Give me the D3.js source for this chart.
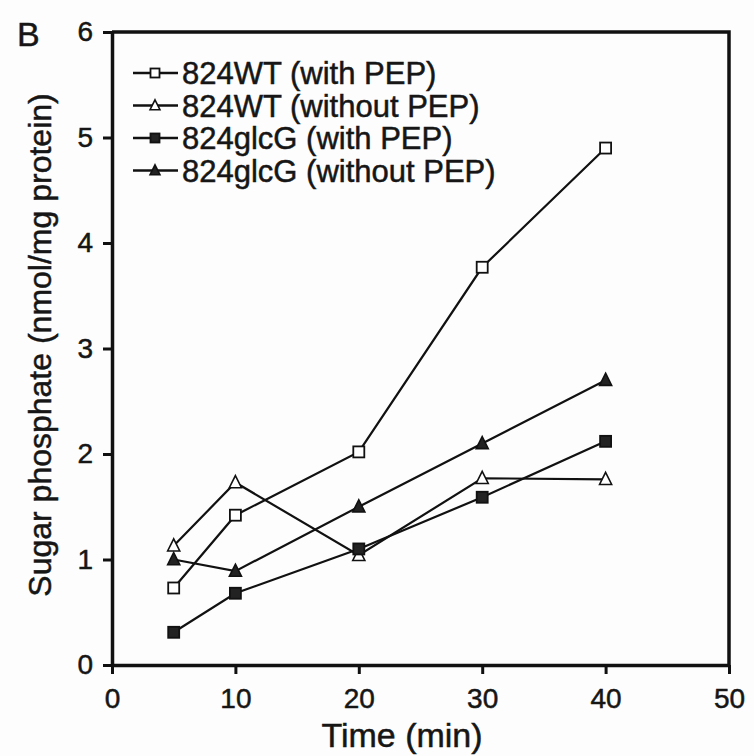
<!DOCTYPE html>
<html>
<head>
<meta charset="utf-8">
<script src="https://d3js.org/d3.v7.min.js"></script>
<style>
body { margin: 0; background: #fdfdfd; }
svg { display: block; }
text { font-family: 'Liberation Sans', Arial, sans-serif; fill: #161616; stroke: #161616; stroke-width: 0.5px; }
</style>
</head>
<body>
<svg></svg>
<script>

var width = 754;
var height = 756;

// Data (time in min, sugar phosphate in nmol/mg protein)
var times = [5, 10, 20, 30, 40];
var wtWithPEP = [0.73, 1.42, 2.02, 3.77, 4.9];
var wtWithoutPEP = [1.13, 1.73, 1.04, 1.77, 1.76];
var glcgWithPEP = [0.31, 0.68, 1.1, 1.59, 2.12];
var glcgWithoutPEP = [1.0, 0.89, 1.5, 2.1, 2.7];

var seriesNames = ["824WT (with PEP)", "824WT (without PEP)", "824glcG (with PEP)", "824glcG (without PEP)"];
var xTicks = [0, 10, 20, 30, 40, 50];
var yTicks = [0, 1, 2, 3, 4, 5, 6];

var series = [
	{ name: seriesNames[0], values: wtWithPEP, shape: "square", filled: false },
	{ name: seriesNames[1], values: wtWithoutPEP, shape: "triangle", filled: false },
	{ name: seriesNames[2], values: glcgWithPEP, shape: "square", filled: true },
	{ name: seriesNames[3], values: glcgWithoutPEP, shape: "triangle", filled: true }
];

var plotLeft = 112, plotRight = 729, plotTop = 32, plotBottom = 665;

var xScale = d3.scaleLinear().domain([0, 50]).range([plotLeft, plotRight]);
var yScale = d3.scaleLinear().domain([0, 6]).range([plotBottom, plotTop]);

var svg = d3.select("svg").attr("width", width).attr("height", height);

// frame (top and right sides)
svg.append("path")
	.attr("d", "M" + plotLeft + "," + plotTop + "H" + plotRight + "V" + plotBottom)
	.attr("fill", "none").attr("stroke", "#111").attr("stroke-width", 3.5);

// axes
var xAxis = svg.append("g").attr("transform", "translate(0," + plotBottom + ")")
	.call(d3.axisBottom(xScale).tickValues(xTicks).tickFormat(d3.format("d"))
		.tickSize(9).tickPadding(14).tickSizeOuter(0));
var yAxis = svg.append("g").attr("transform", "translate(" + plotLeft + ",0)")
	.call(d3.axisLeft(yScale).tickValues(yTicks).tickFormat(d3.format("d"))
		.tickSize(9).tickPadding(10).tickSizeOuter(0));

[xAxis, yAxis].forEach(function (ax) {
	ax.select(".domain").attr("stroke", "#111").attr("stroke-width", 3.5);
	ax.selectAll(".tick line").attr("stroke", "#111").attr("stroke-width", 3);
	ax.selectAll(".tick text").style("font-size", "28px").attr("fill", "#161616")
		.style("font-family", "'Liberation Sans', Arial, sans-serif");
});

// axis titles
svg.append("text")
	.attr("x", 402).attr("y", 747)
	.attr("text-anchor", "middle").style("font-size", "34px")
	.text("Time (min)");

svg.append("text")
	.attr("transform", "translate(51,345) rotate(-90)")
	.attr("text-anchor", "middle").style("font-size", "32px")
	.text("Sugar phosphate (nmol/mg protein)");

svg.append("text")
	.attr("x", 17).attr("y", 46).style("font-size", "34px")
	.text("B");

// markers
function drawMarker(g, s, x, y, size) {
	if (s.shape === "square") {
		g.append("rect")
			.attr("x", x - size / 2).attr("y", y - size / 2)
			.attr("width", size).attr("height", size)
			.attr("fill", s.filled ? "#222" : "#fff")
			.attr("stroke", "#111").attr("stroke-width", 1.8);
	} else {
		var h = size * 1.05;
		g.append("path")
			.attr("d", "M" + x + "," + (y - h * 0.6) + "L" + (x + size * 0.55) + "," + (y + h * 0.45) +
				"L" + (x - size * 0.55) + "," + (y + h * 0.45) + "Z")
			.attr("fill", s.filled ? "#222" : "#fff")
			.attr("stroke", "#111").attr("stroke-width", 1.6);
	}
}

var line = d3.line()
	.x(function (d) { return xScale(d[0]); })
	.y(function (d) { return yScale(d[1]); });

series.forEach(function (s) {
	var pts = times.map(function (t, i) { return [t, s.values[i]]; });
	var g = svg.append("g");
	g.append("path").attr("d", line(pts))
		.attr("fill", "none").attr("stroke", "#111").attr("stroke-width", 2.2);
	pts.forEach(function (p) {
		drawMarker(g, s, xScale(p[0]), yScale(p[1]), 11);
	});
});

// legend
var legend = svg.append("g");
series.forEach(function (s, i) {
	var y = 73 + i * 32.5;
	legend.append("line")
		.attr("x1", 133).attr("x2", 178).attr("y1", y).attr("y2", y)
		.attr("stroke", "#111").attr("stroke-width", 2.5);
	drawMarker(legend, s, 155, y, 9);
	legend.append("text")
		.attr("x", 182).attr("y", y + 11)
		.style("font-size", "31px")
		.text(s.name);
});

</script>
</body>
</html>
